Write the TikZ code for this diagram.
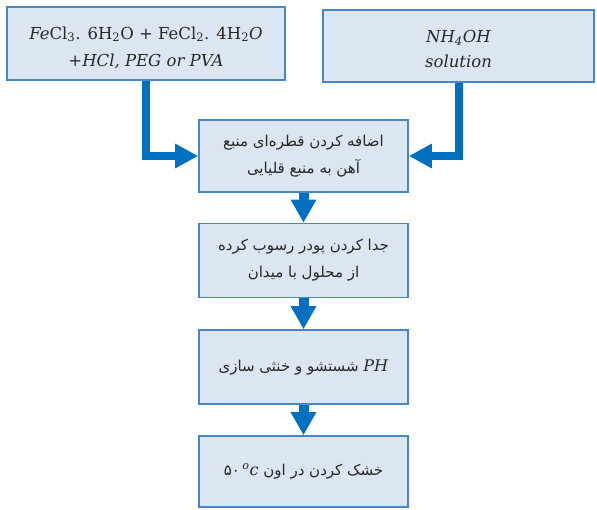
\documentclass[tikz,border=0pt]{standalone}
\usepackage{fontspec}
\usetikzlibrary{arrows.meta}
\TeXXeTstate=1
\newfontfamily\fafont[Script=Arabic]{DejaVu Sans}
\newfontfamily\latfont{DejaVu Serif}
\definecolor{boxfill}{RGB}{220,230,242}
\definecolor{boxline}{RGB}{70,135,200}
\definecolor{arrblue}{RGB}{0,112,192}
\definecolor{txt}{RGB}{40,40,40}
\newcommand{\latinpart}[1]{{\fontsize{16}{20}\selectfont\latfont #1}}
\newcommand{\sbs}[1]{\textsubscript{#1}}
\tikzset{
  stepbox/.style={draw=boxline, line width=1.6pt, fill=boxfill, align=center, text=txt, inner sep=2pt},
  latinsz/.style={font=\fontsize{16.5}{27}\selectfont\latfont},
  farsisz/.style={font=\fontsize{15}{27}\selectfont\fafont},
  larr/.style={draw=arrblue, line width=8pt, -{Triangle[length=23pt,width=23pt]}},
  darr/.style={draw=arrblue, line width=10pt, -{Triangle[length=23pt,width=24pt]}}
}
\begin{document}
\begin{tikzpicture}[x=1pt,y=-1pt]
\useasboundingbox (0,0) rectangle (597,509);
\node[stepbox, latinsz, minimum width=278pt, minimum height=73pt] (b1) at (146,43.5)
  {\rule{0pt}{21pt}\textit{Fe}Cl\sbs{3}. 6H\sbs{2}O + FeCl\sbs{2}. 4H\sbs{2}\textit{O}\\ \textit{+HCl, PEG or PVA}};
\node[stepbox, latinsz, minimum width=271pt, minimum height=72pt] (b2) at (458.5,46)
  {\rule{0pt}{19pt}\textit{NH\sbs{4}OH}\\[-2pt] \textit{solution}};
\node[stepbox, farsisz, minimum width=209pt, minimum height=72pt] (b3) at (303.5,156)
  {\beginR اضافه کردن قطره‌ای  منبع\endR\\ \beginR آهن به منبع قلیایی\endR};
\node[stepbox, farsisz, minimum width=209pt, minimum height=74pt] (b4) at (303.5,260.5)
  {\beginR جدا کردن پودر رسوب کرده\endR\\ \beginR از محلول با میدان\endR};
\node[stepbox, farsisz, minimum width=209pt, minimum height=74pt] (b5) at (303.5,367)
  {\beginR شستشو و خنثی سازی\endR\ \latinpart{\textit{PH}}};
\node[stepbox, farsisz, minimum width=209pt, minimum height=71pt] (b6) at (303.5,471.5)
  {۵۰\,\latinpart{\textsuperscript{\textit{o}}\textit{c}}\ \beginR خشک کردن در اون\endR};
\draw[larr] (b1.south) |- (b3.west);
\draw[larr] (b2.south) |- (b3.east);
\draw[darr] (b3.south) -- (b4.north);
\draw[darr] (b4.south) -- (b5.north);
\draw[darr] (b5.south) -- (b6.north);
\end{tikzpicture}
\end{document}
